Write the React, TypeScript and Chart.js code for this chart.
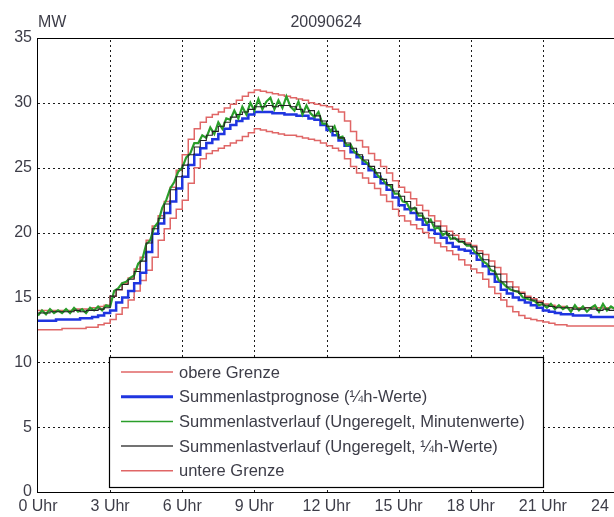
import React, { useEffect, useRef } from "react";
import { Chart, registerables } from "chart.js";
Chart.register(...registerables);

const TITLE = "20090624";
const Y_UNIT = "MW";
const X_TICK_SUFFIX = " Uhr";
const LEGEND_LABELS = [
  "obere Grenze",
  "Summenlastprognose (¼h-Werte)",
  "Summenlastverlauf (Ungeregelt, Minutenwerte)",
  "Summenlastverlauf (Ungeregelt, ¼h-Werte)",
  "untere Grenze",
];

// quarter-hour values, 0:00 .. 24:00 (97 values)
const UPPER = [
  14.0, 14.0, 14.0, 14.0, 14.0, 14.0, 14.1, 14.1, 14.1, 14.2, 14.3, 14.4,
  15.1, 15.6, 16.1, 16.5, 17.2, 18.1, 19.4, 20.5, 21.3, 22.4, 23.5, 24.8,
  26.0, 27.2, 28.0, 28.5, 28.9, 29.1, 29.3, 29.6, 29.9, 30.2, 30.5, 30.8,
  31.0, 30.9, 30.8, 30.7, 30.6, 30.5, 30.4, 30.3, 30.2, 30.0, 29.9, 29.8,
  29.7, 29.5, 29.3, 28.6, 27.8, 27.1, 26.6, 26.1, 25.6, 25.1, 24.6, 24.0,
  23.5, 23.1, 22.6, 22.1, 21.7, 21.3, 20.9, 20.5, 20.1, 19.8, 19.5, 19.2,
  19.0, 18.6, 18.3, 17.8, 17.3, 16.8, 16.2, 15.8, 15.4, 15.1, 14.9, 14.7,
  14.5, 14.4, 14.3, 14.3, 14.2, 14.2, 14.2, 14.2, 14.2, 14.2, 14.2, 14.2,
  14.2,
];
const PROGNOSE = [
  13.2, 13.2, 13.2, 13.3, 13.3, 13.3, 13.3, 13.4, 13.4, 13.5, 13.6, 13.8,
  14.0, 14.6, 15.0, 15.5, 16.1, 16.9, 18.5, 19.9, 20.7, 21.5, 22.4, 23.4,
  24.3, 25.2, 26.0, 26.5, 26.9, 27.2, 27.6, 28.0, 28.3, 28.6, 28.8, 29.1,
  29.3, 29.3, 29.3, 29.2, 29.2, 29.1, 29.1, 29.0, 29.0, 28.8, 28.7, 28.3,
  27.9, 27.5, 27.1, 26.7, 26.2, 25.8, 25.3, 24.8, 24.3, 23.8, 23.3, 22.7,
  22.1, 21.8, 21.5, 21.0, 20.6, 20.2, 19.9, 19.6, 19.2, 18.9, 18.7, 18.6,
  18.4, 17.9, 17.4, 16.8, 16.2, 15.6, 15.3, 15.0, 14.8, 14.6, 14.4, 14.2,
  14.0, 13.9, 13.8, 13.7, 13.7, 13.6, 13.6, 13.6, 13.5, 13.5, 13.5, 13.5,
  13.5,
];
const ACTUAL_Q = [
  13.8, 13.8, 13.9, 13.9, 13.9, 13.9, 14.0, 13.9, 14.0, 14.0, 14.1, 14.2,
  15.1, 15.6, 16.0, 16.4, 17.0, 17.8, 19.2, 20.3, 21.1, 22.2, 23.3, 24.3,
  25.2, 26.0, 26.6, 27.1, 27.5, 27.8, 28.2, 28.5, 28.9, 29.1, 29.3, 29.5,
  29.7, 29.7, 29.8, 29.7, 29.8, 29.8, 29.7, 29.5, 29.3, 29.4, 29.0, 28.6,
  28.2, 27.8, 27.3, 26.9, 26.5, 26.0, 25.6, 25.1, 24.6, 24.1, 23.7, 23.2,
  22.8, 22.4, 21.9, 21.5, 21.1, 20.8, 20.5, 20.1, 19.8, 19.5, 19.3, 19.1,
  18.9, 18.4, 17.9, 17.4, 16.8, 16.2, 15.8, 15.5, 15.3, 15.0, 14.8, 14.6,
  14.4, 14.3, 14.2, 14.2, 14.2, 14.1, 14.1, 14.2, 14.1, 14.0, 14.1, 14.0,
  14.0,
];
const LOWER = [
  12.5, 12.5, 12.5, 12.5, 12.6, 12.6, 12.6, 12.6, 12.7, 12.7, 12.9, 13.0,
  13.3, 13.7, 14.2, 14.8, 15.5, 16.3, 17.1, 18.1, 19.4, 20.3, 21.1, 21.8,
  22.5, 23.8, 25.0, 25.7, 26.1, 26.3, 26.5, 26.7, 26.9, 27.1, 27.4, 27.7,
  28.0, 27.9, 27.8, 27.7, 27.6, 27.5, 27.5, 27.4, 27.3, 27.2, 27.1, 26.9,
  26.7, 26.5, 26.3, 25.7, 25.1, 24.6, 24.2, 23.8, 23.4, 22.9, 22.4, 21.8,
  21.3, 20.9, 20.6, 20.3, 20.0, 19.6, 19.2, 18.9, 18.6, 18.3, 17.9, 17.5,
  17.2, 16.9, 16.4, 15.8, 15.3, 14.8, 14.3, 13.9, 13.6, 13.4, 13.3, 13.2,
  13.1, 13.0, 12.9, 12.9, 12.8, 12.8, 12.8, 12.8, 12.8, 12.8, 12.8, 12.8,
  12.8,
];
// 10-minute samples of the minute series, 0:00 .. 24:00 (145 values)
const ACTUAL_MIN = [
  13.6, 14.0, 13.7, 14.1, 13.8, 14.0,
  13.8, 14.1, 13.8, 14.2, 13.9, 14.1,
  13.8, 14.2, 14.0, 14.3, 14.0, 14.4,
  14.3, 15.5, 15.7, 16.1, 16.2, 16.5,
  16.7, 17.6, 17.9, 19.1, 19.4, 20.4,
  20.8, 21.9, 22.5, 23.4, 23.9, 24.7,
  25.0, 25.8, 26.1, 26.9, 26.9, 27.5,
  27.3, 28.1, 27.6, 28.5, 28.0, 28.8,
  28.7, 29.4, 28.8, 29.7, 29.1, 30.0,
  29.4, 30.3, 29.5, 30.1, 30.4, 29.5,
  30.2, 29.6, 30.5, 29.7, 29.4, 30.1,
  29.1, 29.8, 29.2, 28.9, 29.3, 28.4,
  28.4, 27.8, 28.2, 27.3, 27.4, 26.7,
  26.8, 26.2, 26.0, 25.6, 25.4, 25.0,
  24.8, 24.3, 24.1, 23.7, 23.6, 23.0,
  23.0, 22.4, 22.3, 21.7, 21.9, 21.3,
  21.3, 20.7, 21.0, 20.3, 20.4, 19.8,
  20.0, 19.5, 19.6, 19.3, 19.3, 19.0,
  19.0, 18.5, 18.3, 17.8, 17.6, 17.1,
  17.0, 16.3, 16.1, 15.8, 15.6, 15.5,
  15.4, 15.0, 14.9, 14.8, 14.7, 14.4,
  14.5, 14.2, 14.5, 14.1, 14.4, 14.1,
  14.3, 13.9, 14.4, 14.0, 14.3, 13.9,
  14.2, 14.4, 13.9, 14.5, 14.0, 14.3,
  14.1,
];

const RED = "#e06666";
const BLUE = "#1f35e0";
const GREEN = "#2a9e2a";
const BLACK = "#222222";
const TEXT = "#3d3d48";
const FONT = '"Liberation Sans", Arial, sans-serif';

export default function App() {
  const ref = useRef<HTMLCanvasElement>(null);

  useEffect(() => {
    document.body.style.margin = "0";
    const canvas = ref.current;
    if (!canvas) return;
    const quarter = (arr: number[]) => arr.map((v, i) => ({ x: i / 4, y: v }));
    const tenMin = (arr: number[]) => arr.map((v, i) => ({ x: i / 6, y: v }));

    const gridPlugin = {
      id: "dottedGrid",
      beforeDatasetsDraw(chart: any) {
        const { ctx, chartArea: a, scales } = chart;
        ctx.save();
        ctx.strokeStyle = "#1a1a1a";
        ctx.lineWidth = 1;
        ctx.setLineDash([2, 3]);
        scales.x.ticks.forEach((t: any) => {
          if (t.value <= scales.x.min || t.value >= scales.x.max) return;
          const px = Math.round(scales.x.getPixelForValue(t.value)) + 0.5;
          ctx.beginPath();
          ctx.moveTo(px, a.bottom);
          ctx.lineTo(px, a.top);
          ctx.stroke();
        });
        scales.y.ticks.forEach((t: any) => {
          if (t.value <= scales.y.min || t.value >= scales.y.max) return;
          const py = Math.round(scales.y.getPixelForValue(t.value)) + 0.5;
          ctx.beginPath();
          ctx.moveTo(a.left, py);
          ctx.lineTo(a.right, py);
          ctx.stroke();
        });
        ctx.restore();
      },
    };

    const frame = {
      id: "frame",
      afterDraw(chart: any) {
        const { ctx, chartArea: a } = chart;
        ctx.save();
        ctx.strokeStyle = "#000";
        ctx.lineWidth = 1;
        ctx.strokeRect(Math.round(a.left) - 0.5, Math.round(a.top) + 0.5, a.right - a.left, a.bottom - a.top);
        ctx.fillStyle = TEXT;
        ctx.font = "16px " + FONT;
        ctx.textBaseline = "alphabetic";
        ctx.textAlign = "center";
        ctx.fillText(TITLE, (a.left + 614) / 2, 27);
        ctx.textAlign = "left";
        ctx.fillText(Y_UNIT, a.left, 27);

        // legend
        const bx = 109, by = 357, bw = 434, bh = 130;
        ctx.fillStyle = "#fff";
        ctx.fillRect(bx, by, bw, bh);
        ctx.strokeStyle = "#000";
        ctx.lineWidth = 1.2;
        ctx.strokeRect(bx + 0.5, by + 0.5, bw, bh);
        const styles = [
          { c: RED, w: 1.5 },
          { c: BLUE, w: 3 },
          { c: GREEN, w: 1.5 },
          { c: "#444", w: 1.5 },
          { c: RED, w: 1.5 },
        ];
        ctx.font = "16.5px " + FONT;
        ctx.textBaseline = "middle";
        LEGEND_LABELS.forEach((lab, i) => {
          const y = 372 + i * 24.7;
          ctx.strokeStyle = styles[i].c;
          ctx.lineWidth = styles[i].w;
          ctx.beginPath();
          ctx.moveTo(121, y);
          ctx.lineTo(173, y);
          ctx.stroke();
          ctx.fillStyle = TEXT;
          ctx.fillText(lab, 179, y + 1);
        });
        ctx.restore();
      },
    };

    const chart = new Chart(canvas, {
      type: "line",
      data: {
        datasets: [
          { label: LEGEND_LABELS[0], data: quarter(UPPER), borderColor: RED, borderWidth: 1.5, stepped: true, order: 3 },
          { label: LEGEND_LABELS[1], data: quarter(PROGNOSE), borderColor: BLUE, borderWidth: 2.5, stepped: true, order: 2 },
          { label: LEGEND_LABELS[2], data: tenMin(ACTUAL_MIN), borderColor: GREEN, borderWidth: 2.2, order: 1 },
          { label: LEGEND_LABELS[3], data: quarter(ACTUAL_Q), borderColor: BLACK, borderWidth: 1.1, stepped: true, order: 0 },
          { label: LEGEND_LABELS[4], data: quarter(LOWER), borderColor: RED, borderWidth: 1.5, stepped: true, order: 4 },
        ],
      },
      options: {
        animation: false,
        responsive: false,
        devicePixelRatio: 1,
        parsing: false as any,
        normalized: true,
        layout: { padding: { top: 38, right: 15, left: 0, bottom: 0 } },
        elements: { point: { radius: 0 }, line: { tension: 0 } },
        plugins: { legend: { display: false }, tooltip: { enabled: false }, title: { display: false } },
        scales: {
          x: {
            type: "linear",
            min: 0,
            max: 24,
            ticks: {
              stepSize: 3,
              color: TEXT,
              font: { size: 16, family: FONT },
              padding: 5,
              maxRotation: 0,
              autoSkip: false,
              callback: (v: any) => v + X_TICK_SUFFIX,
            },
            grid: { display: false, drawTicks: false },
            border: { display: false },
            afterFit: (s: any) => {
              s.height = 25;
              s.paddingRight = 0;
              s.paddingLeft = 0;
            },
          },
          y: {
            type: "linear",
            min: 0,
            max: 35,
            ticks: {
              stepSize: 5,
              color: TEXT,
              font: { size: 16, family: FONT },
              padding: 6,
            },
            grid: { display: false, drawTicks: false },
            border: { display: false },
            afterFit: (s: any) => {
              s.width = 38;
            },
          },
        },
      },
      plugins: [gridPlugin, frame],
    });
    return () => chart.destroy();
  }, []);

  return (
    <div style={{ width: 614, height: 517, overflow: "hidden", background: "#fff" }}>
      <canvas ref={ref} width={630} height={517} style={{ display: "block" }} />
    </div>
  );
}
